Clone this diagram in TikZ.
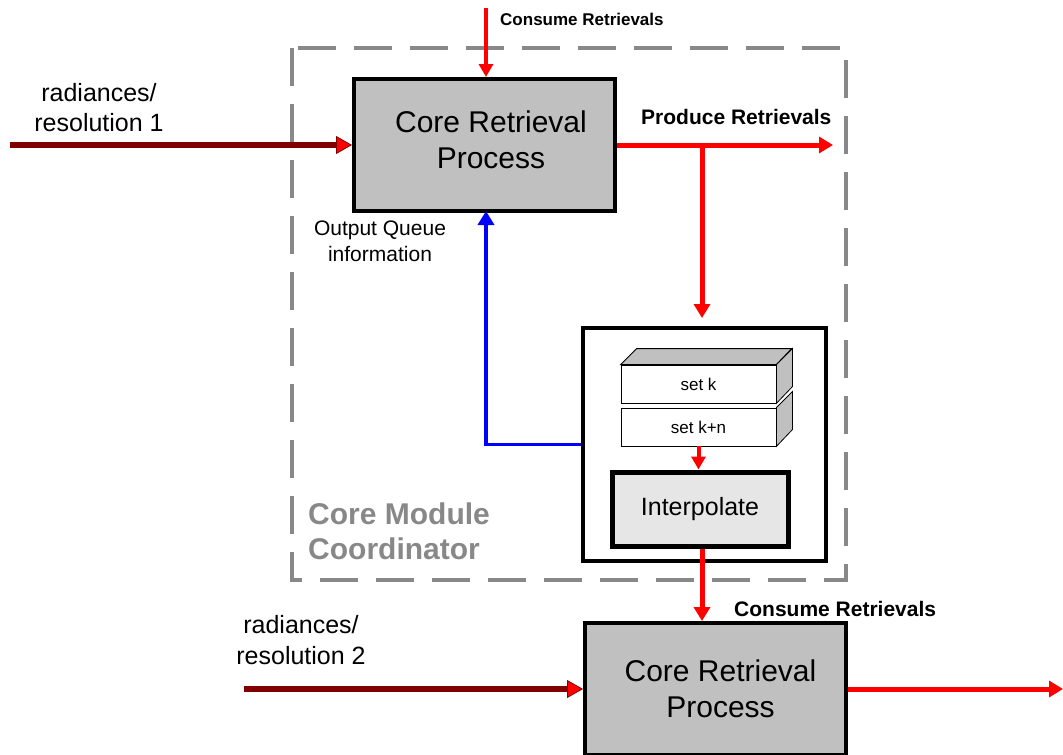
\documentclass[tikz,border=0pt]{standalone}
\usepackage{fontspec}
\setmainfont{Liberation Sans}
\usetikzlibrary{arrows.meta}
\definecolor{darkred}{RGB}{128,0,0}
\definecolor{boxgray}{RGB}{192,192,192}
\definecolor{lightbox}{RGB}{230,230,230}
\definecolor{dashgray}{RGB}{136,136,136}
\definecolor{pureblue}{RGB}{0,0,255}
\definecolor{purered}{RGB}{255,0,0}
\begin{document}
\begin{tikzpicture}[x=1pt,y=-1pt,
  procbox/.style={draw=black,line width=4pt,fill=boxgray,minimum width=261pt,
    minimum height=132pt,inner sep=0pt},
  proctext/.style={inner sep=0pt,align=center,
    font=\fontsize{30}{36}\selectfont},
  holder/.style={draw=black,line width=4pt,fill=white,minimum width=243pt,
    minimum height=233pt,inner sep=0pt},
  setface/.style={draw=black,line width=0.8pt,fill=white,minimum width=155pt,
    minimum height=38pt,inner sep=0pt,font=\fontsize{17}{20}\selectfont},
  cubeface/.style={draw=black,line width=0.8pt,fill=boxgray},
  interpbox/.style={draw=black,line width=5pt,fill=lightbox,minimum width=176pt,
    minimum height=74pt,inner sep=0pt,font=\fontsize{25}{30}\selectfont},
  flow/.style={draw=purered,line width=5pt,
    -{Triangle[length=14pt,width=16pt]}},
  thinflow/.style={draw=purered,line width=4pt,
    -{Triangle[length=13pt,width=14pt]}},
  inputflow/.style={draw=darkred,line width=6pt,
    -{Triangle[length=16pt,width=18pt,fill=purered,line width=0.8pt]}},
  queueflow/.style={draw=pureblue,line width=3.5pt,
    -{Triangle[length=14pt,width=16pt]}},
  plain/.style={inner sep=0pt,align=center},
  boldlabel/.style={inner sep=0pt,anchor=west,font=\bfseries}
]
\useasboundingbox (0,0) rectangle (1063,755);

% dashed frame of the coordinator
\draw[dashgray,line width=4pt,dash pattern=on 38pt off 18pt]
  (292,48) rectangle (846,580);
\node[plain,anchor=west,align=left,text=dashgray,
  font=\fontsize{30}{35}\bfseries\selectfont] (cmc) at (308,531)
  {Core Module\\Coordinator};

% the two retrieval processes
\node[procbox] (topbox) at (484.5,145) {};
\node[proctext] (toptext) at (491,140) {Core Retrieval\\Process};
\node[procbox] (botbox) at (715.5,689) {};
\node[proctext] (bottext) at (720.5,689) {Core Retrieval\\Process};

% queue holder with the two sets and the interpolation step
\node[holder] (holder) at (704.5,444.5) {};
\node[setface] (setk) at (698.5,384) {set k};
\node[setface] (setkn) at (698.5,427) {set k+n};
\draw[cubeface] (setk.north west) -- ++(16,-16) -- ++(155,0)
  -- (setk.north east) -- cycle;
\draw[cubeface] (setk.north east) -- ++(16,-16) -- ++(0,38)
  -- (setk.south east) -- cycle;
\draw[cubeface] (setkn.north east) -- ++(16,-16) -- ++(0,38)
  -- (setkn.south east) -- cycle;
\node[interpbox] (interp) at (700,509) {Interpolate};

% inputs
\coordinate (in1) at (10,145);
\coordinate (in2) at (244,689);
\draw[inputflow] (in1) -- (topbox.west);
\draw[inputflow] (in2) -- (botbox.west);
\node[plain,font=\fontsize{25}{30}\selectfont] (rad1) at (99,108)
  {radiances/\\resolution 1};
\node[plain,font=\fontsize{25}{31}\selectfont] (rad2) at (301,640)
  {radiances/\\resolution 2};

% retrieval flow
\coordinate (consumetop) at (486,8);
\draw[thinflow] (consumetop) -- (consumetop |- topbox.north);
\node[boldlabel,font=\fontsize{17}{20}\bfseries\selectfont] (lconsume1)
  at (500,19) {Consume Retrievals};

\coordinate (prodend) at (833,145);
\coordinate (branch) at (702,145);
\draw[flow] (topbox.east) -- (prodend);
\node[boldlabel,font=\fontsize{21}{24}\bfseries\selectfont] (lproduce)
  at (641,117) {Produce Retrievals};
\draw[flow,shorten >=8pt] (branch) -- (branch |- holder.north);

\draw[thinflow] (setkn.south) -- (setkn.south |- interp.north);
\draw[flow] (interp.south -| branch) -- (branch |- botbox.north);
\node[boldlabel,font=\fontsize{21}{24}\bfseries\selectfont] (lconsume2)
  at (734,609) {Consume Retrievals};

\coordinate (outend) at (1063,689);
\draw[flow] (botbox.east) -- (outend);

% queue information fed back
\coordinate (qup) at (486,211);
\draw[queueflow] (holder.west) -| (qup);
\node[plain,font=\fontsize{21}{26}\selectfont] (lqueue) at (380,241)
  {Output Queue\\information};
\end{tikzpicture}
\end{document}
